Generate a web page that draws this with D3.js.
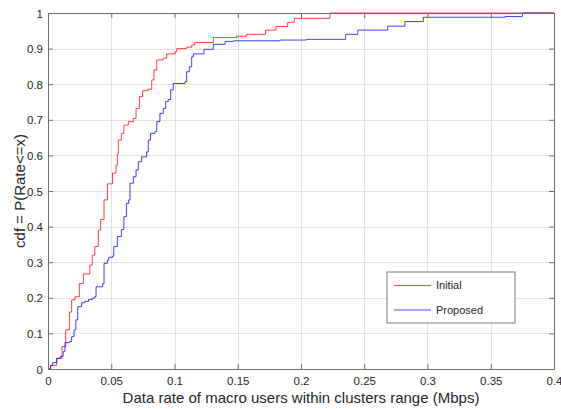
<!DOCTYPE html>
<html lang="en">
  <head>
    <meta charset="utf-8">
    <title>CDF of macro user data rate</title>
    <script src="https://d3js.org/d3.v7.min.js"></script>
    <style>
      body { margin: 0; background: #fff; }
      text { font-family: "Liberation Sans", Arial, sans-serif; fill: #262626; }
    </style>
  </head>
  <body>
    <svg width="561" height="409"></svg>
    <script type="text/javascript">
      // step points: rate where the cdf jumps, and cdf value after the jump
      var initialRate = [0, 0.002, 0.0069, 0.011, 0.014, 0.0169, 0.0187, 0.0213, 0.0248, 0.028, 0.033, 0.035, 0.037,
        0.0398, 0.0416, 0.0443, 0.047, 0.051, 0.0538, 0.0548, 0.0556, 0.058, 0.060, 0.0635, 0.0675, 0.0696, 0.0722,
        0.0748, 0.079, 0.082, 0.0838, 0.086, 0.091, 0.0938, 0.1004, 0.1017, 0.1096, 0.1136, 0.116, 0.1307, 0.149,
        0.157, 0.172, 0.1802, 0.1895, 0.1947, 0.2229, 0.4];
      var initialCdf = [0, 0.01, 0.03, 0.063, 0.11, 0.16, 0.194, 0.203, 0.24, 0.267, 0.292, 0.32, 0.344,
        0.39, 0.42, 0.475, 0.52, 0.55, 0.573, 0.605, 0.643, 0.662, 0.685, 0.695, 0.704, 0.732, 0.765,
        0.782, 0.786, 0.812, 0.84, 0.868, 0.873, 0.885, 0.891, 0.90, 0.904, 0.91, 0.917, 0.931, 0.935,
        0.94, 0.952, 0.962, 0.974, 0.985, 1.0, 1.0];

      var proposedRate = [0, 0.002, 0.0037, 0.0069, 0.010, 0.012, 0.0134, 0.0169, 0.0187, 0.0206, 0.022, 0.0235,
        0.0266, 0.029, 0.032, 0.035, 0.037, 0.038, 0.0432, 0.0443, 0.047, 0.048, 0.051, 0.052, 0.0548, 0.058, 0.060,
        0.062, 0.0638, 0.0648, 0.0675, 0.0696, 0.0714, 0.074, 0.078, 0.0793, 0.081, 0.0846, 0.086, 0.0885, 0.0912,
        0.093, 0.095, 0.097, 0.099, 0.1083, 0.1096, 0.1117, 0.1136, 0.1149, 0.1233, 0.1307, 0.14, 0.1465, 0.1834,
        0.2045, 0.2353, 0.2449, 0.2685, 0.2822, 0.2967, 0.3613, 0.375, 0.4];
      var proposedCdf = [0, 0.01, 0.018, 0.03, 0.036, 0.049, 0.074, 0.077, 0.091, 0.11, 0.138, 0.175,
        0.186, 0.19, 0.195, 0.199, 0.203, 0.231, 0.24, 0.297, 0.306, 0.314, 0.317, 0.344, 0.372, 0.392, 0.428,
        0.465, 0.475, 0.522, 0.54, 0.559, 0.582, 0.596, 0.61, 0.643, 0.662, 0.667, 0.695, 0.718, 0.732,
        0.751, 0.757, 0.784, 0.802, 0.807, 0.835, 0.849, 0.877, 0.885, 0.898, 0.912, 0.92, 0.922, 0.924,
        0.926, 0.94, 0.952, 0.963, 0.976, 0.988, 0.99, 1.0, 1.0];

      var xTicks = [0, 0.05, 0.1, 0.15, 0.2, 0.25, 0.3, 0.35, 0.4];
      var yTicks = [0, 0.1, 0.2, 0.3, 0.4, 0.5, 0.6, 0.7, 0.8, 0.9, 1];
      var seriesNames = ["Initial", "Proposed"];
      var seriesColors = ["#ff0000", "#0000ff"];

      var svg = d3.select("svg");
      var plotLeft = 48, plotRight = 554, plotTop = 13, plotBottom = 369;

      var x = d3.scaleLinear().domain([0, 0.4]).range([plotLeft, plotRight]);
      var y = d3.scaleLinear().domain([0, 1]).range([plotBottom, plotTop]);

      // grid
      var grid = svg.append("g");
      grid.selectAll(".gx").data(xTicks).enter().append("line")
          .attr("x1", function(d) { return Math.round(x(d)) + 0.5; })
          .attr("x2", function(d) { return Math.round(x(d)) + 0.5; })
          .attr("y1", plotTop).attr("y2", plotBottom)
          .attr("stroke", "#e3e3e3");
      grid.selectAll(".gy").data(yTicks).enter().append("line")
          .attr("y1", function(d) { return Math.round(y(d)) + 0.5; })
          .attr("y2", function(d) { return Math.round(y(d)) + 0.5; })
          .attr("x1", plotLeft).attr("x2", plotRight)
          .attr("stroke", "#e3e3e3");

      // curves
      var line = d3.line()
          .x(function(d) { return x(d[0]); })
          .y(function(d) { return y(d[1]); })
          .curve(d3.curveStepAfter);

      var series = [d3.zip(initialRate, initialCdf), d3.zip(proposedRate, proposedCdf)];
      series.forEach(function(s, i) {
        svg.append("path")
            .attr("d", line(s))
            .attr("fill", "none")
            .attr("stroke", seriesColors[i])
            .attr("stroke-opacity", 0.75)
            .attr("stroke-width", 1);
      });

      // axes (MATLAB style: inward ticks, mirrored on top/right)
      var axisColor = "#6e6e6e";
      var xAxis = d3.axisBottom(x).tickValues(xTicks).tickSizeInner(-5).tickSizeOuter(0)
          .tickFormat(function(d) { return d3.format("")(d); });
      var gx = svg.append("g").attr("transform", "translate(0," + plotBottom + ")").call(xAxis);
      gx.selectAll("text").attr("dy", "0").attr("y", 16).style("font-size", "11.5px");

      var yAxis = d3.axisLeft(y).tickValues(yTicks).tickSizeInner(-5).tickSizeOuter(0)
          .tickFormat(function(d) { return d3.format("")(d); });
      var gy = svg.append("g").attr("transform", "translate(" + plotLeft + ",0)").call(yAxis);
      gy.selectAll("text").attr("x", -5).attr("dy", "0.35em").style("font-size", "11.5px");

      var gTop = svg.append("g").attr("transform", "translate(0," + plotTop + ")")
          .call(d3.axisTop(x).tickValues(xTicks).tickSizeInner(-5).tickSizeOuter(0).tickFormat(""));
      var gRight = svg.append("g").attr("transform", "translate(" + plotRight + ",0)")
          .call(d3.axisRight(y).tickValues(yTicks).tickSizeInner(-5).tickSizeOuter(0).tickFormat(""));

      [gx, gy, gTop, gRight].forEach(function(g) {
        g.selectAll("path, line").attr("stroke", axisColor);
        g.selectAll("text").attr("fill", "#262626").style("font-family", "Liberation Sans, Arial, sans-serif");
      });

      // labels
      svg.append("text")
          .attr("x", (plotLeft + plotRight) / 2).attr("y", 403)
          .attr("text-anchor", "middle")
          .style("font-size", "15px")
          .text("Data rate of macro users within clusters range (Mbps)");
      svg.append("text")
          .attr("transform", "translate(25," + ((plotTop + plotBottom) / 2) + ") rotate(-90)")
          .attr("text-anchor", "middle")
          .style("font-size", "15px")
          .text("cdf = P(Rate<=x)");

      // legend
      var legend = svg.append("g").attr("transform", "translate(387,272)");
      legend.append("rect")
          .attr("width", 128).attr("height", 51)
          .attr("fill", "#fff").attr("stroke", "#7a7a7a");
      seriesNames.forEach(function(name, i) {
        var ly = 13.5 + i * 24.5;
        legend.append("line")
            .attr("x1", 7).attr("x2", 44).attr("y1", ly).attr("y2", ly)
            .attr("stroke", seriesColors[i]).attr("stroke-opacity", 0.7);
        legend.append("text")
            .attr("x", 49).attr("y", ly).attr("dy", "0.35em")
            .style("font-size", "11px")
            .text(name);
      });
    </script>
  </body>
</html>
